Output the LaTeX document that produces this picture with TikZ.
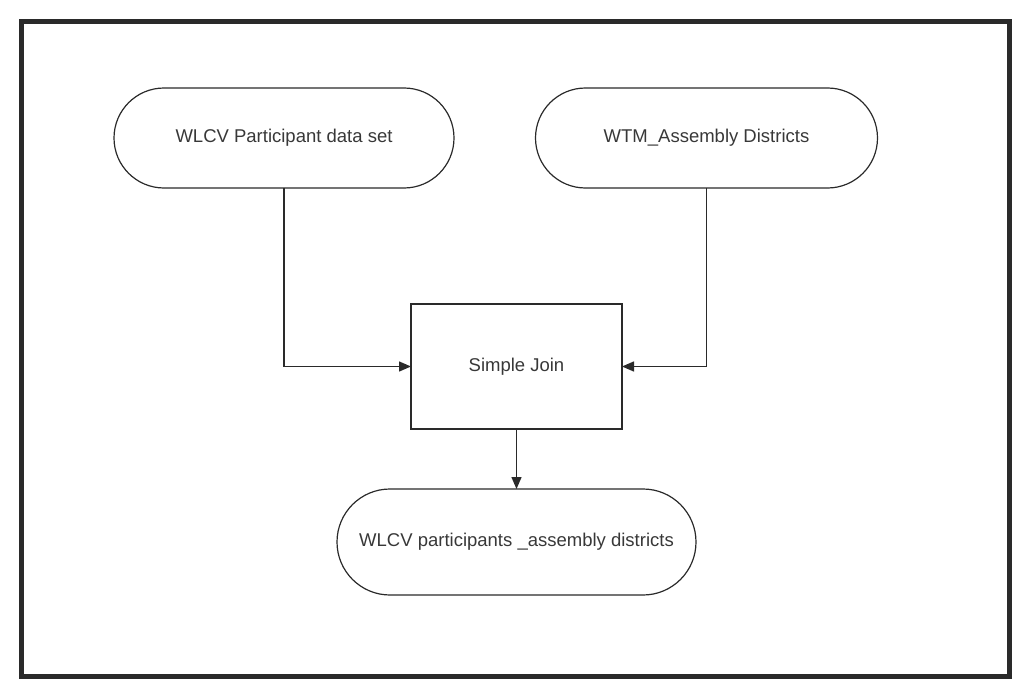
\documentclass[tikz,border=0pt]{standalone}
\usepackage{fontspec}
\setmainfont{Liberation Sans}
\usetikzlibrary{shapes.misc,arrows.meta}
\definecolor{ink}{HTML}{2A2A2A}
\definecolor{txt}{HTML}{383838}
\tikzset{
  terminal/.style={rounded rectangle, rounded rectangle arc length=180, draw=ink, line width=1.2pt,
    minimum height=100pt, inner sep=0pt, outer sep=0pt, text=txt, font=\fontsize{18.5}{22}\selectfont},
  procbox/.style={rectangle, draw=ink, line width=1.2pt, inner sep=0pt, outer sep=0pt,
    minimum width=211pt, minimum height=125pt, text=txt, font=\fontsize{18.5}{22}\selectfont},
  link/.style={draw=ink, line width=1.4pt, -{Triangle[length=12pt,width=10pt]}},
  frame/.style={draw=ink, line width=5pt}
}
\begin{document}
\begin{tikzpicture}[x=1pt,y=-1pt]
\useasboundingbox (0,0) rectangle (1018,685);
\draw[frame] (21.5,21.5) rectangle (1009.5,676.5);
\node[terminal, minimum width=340pt] (src1) at (284,138) {WLCV Participant data set};
\node[terminal, minimum width=342pt] (src2) at (706.5,138) {WTM\_Assembly Districts};
\node[procbox] (join) at (516.5,366.5) {Simple Join};
\node[terminal, minimum width=359pt, minimum height=106pt] (out) at (516.5,542) {WLCV participants \_assembly districts};
\draw[link] (src1.south) |- (join.west);
\draw[link] (src2.south) |- (join.east);
\draw[link] (join.south) -- (out.north);
\end{tikzpicture}
\end{document}
